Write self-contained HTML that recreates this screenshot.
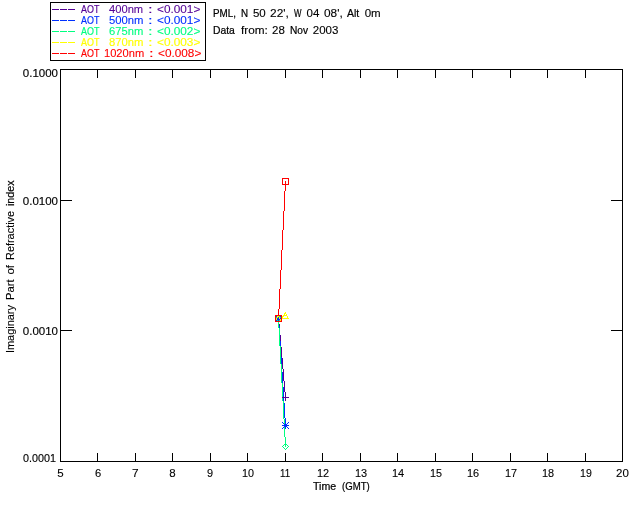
<!DOCTYPE html>
<html lang="en">
<head>
<meta charset="utf-8">
<title>Imaginary Part of Refractive Index - PML 28 Nov 2003</title>
<style>
html,body{margin:0;padding:0;background:#fff}
body{position:relative;width:640px;height:512px;overflow:hidden;font-family:"Liberation Sans",sans-serif;font-size:11.5px;color:#000}
svg{position:absolute;left:0;top:0}
#labels{position:absolute;left:0;top:0;width:640px;height:512px;will-change:transform}
.t{position:absolute;white-space:pre;line-height:16px;height:16px;width:0}
.t span{position:absolute;top:0;left:0;transform-origin:0 0;white-space:pre;-webkit-text-stroke:0.1px}
.t .n{-webkit-text-stroke:0.2px}
.xt span,.xt .n{-webkit-text-stroke:0.12px}
.yt span{-webkit-text-stroke:0.16px}
.hd span{-webkit-text-stroke:0.13px}
.hd .n,.xl .n{-webkit-text-stroke:0.24px}
.yl{transform:rotate(-90deg);transform-origin:0 0}
</style>
</head>
<body>
<svg width="640" height="512" viewBox="0 0 640 512" shape-rendering="crispEdges">
<path d="M60.5 69.5H622.5V461.5H60.5Z" fill="none" stroke="#000" stroke-width="1"/>
<path d="M60.5 453V461M60.5 69V78M97.5 453V461M97.5 69V78M135.5 453V461M135.5 69V78M172.5 453V461M172.5 69V78M210.5 453V461M210.5 69V78M247.5 453V461M247.5 69V78M285.5 453V461M285.5 69V78M322.5 453V461M322.5 69V78M360.5 453V461M360.5 69V78M397.5 453V461M397.5 69V78M435.5 453V461M435.5 69V78M472.5 453V461M472.5 69V78M510.5 453V461M510.5 69V78M547.5 453V461M547.5 69V78M585.5 453V461M585.5 69V78M622.5 453V461M622.5 69V78M60 69.5H72M611 69.5H623M60 200.5H72M611 200.5H623M60 330.5H72M611 330.5H623M60 461.5H72M611 461.5H623" fill="none" stroke="#000" stroke-width="1"/>
<path d="M50.5 2.5H205.5V60.5H50.5Z" fill="none" stroke="#000" stroke-width="1"/>
<path d="M52 9h7v1h-7zM60 9h7v1h-7zM68 9h7v1h-7z" fill="#540096"/>
<path d="M52 20h7v1h-7zM60 20h7v1h-7zM68 20h7v1h-7z" fill="#0030ff"/>
<path d="M52 31h7v1h-7zM60 31h7v1h-7zM68 31h7v1h-7z" fill="#00ff80"/>
<path d="M52 42h7v1h-7zM60 42h7v1h-7zM68 42h7v1h-7z" fill="#ffff00"/>
<path d="M52 53h7v1h-7zM60 53h7v1h-7zM68 53h7v1h-7z" fill="#ff0000"/>
<path d="M278 318h1v6h-1zM279 324h1v11h-1zM280 335h1v12h-1zM281 347h1v11h-1zM282 358h1v11h-1zM283 369h1v12h-1zM284 381h1v11h-1zM285 392h1v6h-1z" fill="#540096"/>
<path d="M278 318h1v8h-1zM279 326h1v15h-1zM280 341h1v16h-1zM281 357h1v15h-1zM282 372h1v15h-1zM283 387h1v16h-1zM284 403h1v15h-1zM285 418h1v8h-1z" fill="#0030ff"/>
<path d="M278 318h1v10h-1zM279 328h1v18h-1zM280 346h1v18h-1zM281 364h1v19h-1zM282 383h1v18h-1zM283 401h1v18h-1zM284 419h1v18h-1zM285 437h1v10h-1z" fill="#00ff80"/>
<path d="M278 318h1v1h-1zM279 318h1v1h-1zM280 317h1v1h-1zM281 317h1v1h-1zM282 316h1v1h-1zM283 316h1v1h-1zM284 315h1v1h-1zM285 315h1v1h-1z" fill="#ffff00"/>
<path d="M278 309h1v10h-1zM279 289h1v20h-1zM280 270h1v19h-1zM281 250h1v20h-1zM282 230h1v20h-1zM283 211h1v19h-1zM284 191h1v20h-1zM285 181h1v10h-1z" fill="#ff0000"/>
<path d="M275 318h1v1h-1zM276 318h1v1h-1zM277 318h1v1h-1zM278 315h1v7h-1zM279 318h1v1h-1zM280 318h1v1h-1zM281 318h1v1h-1zM282 397h1v1h-1zM283 397h1v1h-1zM284 397h1v1h-1zM285 394h1v7h-1zM286 397h1v1h-1zM287 397h1v1h-1zM288 397h1v1h-1z" fill="#540096"/>
<path d="M275 315h1v1h-1zM275 318h1v1h-1zM275 321h1v1h-1zM276 316h1v1h-1zM276 318h1v1h-1zM276 320h1v1h-1zM277 317h1v3h-1zM278 315h1v7h-1zM279 317h1v3h-1zM280 316h1v1h-1zM280 318h1v1h-1zM280 320h1v1h-1zM281 315h1v1h-1zM281 318h1v1h-1zM281 321h1v1h-1zM282 422h1v1h-1zM282 425h1v1h-1zM282 428h1v1h-1zM283 423h1v1h-1zM283 425h1v1h-1zM283 427h1v1h-1zM284 424h1v3h-1zM285 422h1v7h-1zM286 424h1v3h-1zM287 423h1v1h-1zM287 425h1v1h-1zM287 427h1v1h-1zM288 422h1v1h-1zM288 425h1v1h-1zM288 428h1v1h-1z" fill="#0030ff"/>
<path d="M275 318h1v1h-1zM276 317h1v1h-1zM276 319h1v1h-1zM277 316h1v1h-1zM277 320h1v1h-1zM278 315h1v1h-1zM278 321h1v1h-1zM279 316h1v1h-1zM279 320h1v1h-1zM280 317h1v1h-1zM280 319h1v1h-1zM281 318h1v1h-1zM282 446h1v1h-1zM283 445h1v1h-1zM283 447h1v1h-1zM284 444h1v1h-1zM284 448h1v1h-1zM285 443h1v1h-1zM285 449h1v1h-1zM286 444h1v1h-1zM286 448h1v1h-1zM287 445h1v1h-1zM287 447h1v1h-1zM288 446h1v1h-1z" fill="#00ff80"/>
<path d="M275 320h1v2h-1zM276 318h1v2h-1zM276 321h1v1h-1zM277 316h1v2h-1zM277 321h1v1h-1zM278 315h1v2h-1zM278 321h1v1h-1zM279 317h1v2h-1zM279 321h1v1h-1zM280 319h1v3h-1zM281 321h1v1h-1zM282 317h1v2h-1zM283 315h1v2h-1zM283 318h1v1h-1zM284 313h1v2h-1zM284 318h1v1h-1zM285 312h1v2h-1zM285 318h1v1h-1zM286 314h1v2h-1zM286 318h1v1h-1zM287 316h1v3h-1zM288 318h1v1h-1z" fill="#ffff00"/>
<path d="M275 315h1v7h-1zM276 315h1v1h-1zM276 321h1v1h-1zM277 315h1v1h-1zM277 321h1v1h-1zM278 315h1v1h-1zM278 321h1v1h-1zM279 315h1v1h-1zM279 321h1v1h-1zM280 315h1v1h-1zM280 321h1v1h-1zM281 315h1v7h-1zM282 178h1v7h-1zM283 178h1v1h-1zM283 184h1v1h-1zM284 178h1v1h-1zM284 184h1v1h-1zM285 178h1v1h-1zM285 184h1v1h-1zM286 178h1v1h-1zM286 184h1v1h-1zM287 178h1v1h-1zM287 184h1v1h-1zM288 178h1v7h-1z" fill="#ff0000"/>
</svg>
<div id="labels">
<div class="t lg" style="left:79px;top:1px;color:#540096"><span class="n" style="left:1.90px;transform:scaleX(0.776)">AOT</span> <span style="left:30.15px;transform:scaleX(0.972)">400nm</span> <span style="left:68.70px;transform:scaleX(1.450)">:</span> <span style="left:77.71px;transform:scaleX(1.025)">&lt;0.001&gt;</span></div>
<div class="t lg" style="left:79px;top:12px;color:#0030ff"><span class="n" style="left:1.90px;transform:scaleX(0.776)">AOT</span> <span style="left:29.91px;transform:scaleX(0.980)">500nm</span> <span style="left:68.70px;transform:scaleX(1.450)">:</span> <span style="left:77.71px;transform:scaleX(1.025)">&lt;0.001&gt;</span></div>
<div class="t lg" style="left:79px;top:23px;color:#00ff80"><span class="n" style="left:1.90px;transform:scaleX(0.776)">AOT</span> <span style="left:30.10px;transform:scaleX(0.974)">675nm</span> <span style="left:68.70px;transform:scaleX(1.450)">:</span> <span style="left:77.71px;transform:scaleX(1.025)">&lt;0.002&gt;</span></div>
<div class="t lg" style="left:79px;top:34px;color:#ffff00"><span class="n" style="left:1.90px;transform:scaleX(0.776)">AOT</span> <span style="left:29.91px;transform:scaleX(0.980)">870nm</span> <span style="left:68.70px;transform:scaleX(1.450)">:</span> <span style="left:77.71px;transform:scaleX(1.025)">&lt;0.003&gt;</span></div>
<div class="t lg" style="left:79px;top:45px;color:#ff0000"><span class="n" style="left:1.90px;transform:scaleX(0.776)">AOT</span> <span style="left:25.45px;transform:scaleX(0.967)">1020nm</span> <span style="left:69.96px;transform:scaleX(1.450)">:</span> <span style="left:78.97px;transform:scaleX(1.025)">&lt;0.008&gt;</span></div>
<div class="t hd" style="left:212px;top:5px"><span class="n" style="left:1.15px;transform:scaleX(0.852)">PML,</span> <span class="n" style="left:28.91px;transform:scaleX(0.850)">N</span> <span style="left:40.94px">50</span> <span style="left:58.46px;transform:scaleX(1.036)">22&#x27;,</span> <span class="n" style="left:82.05px;transform:scaleX(0.688)">W</span> <span style="left:94.57px">04</span> <span style="left:112.23px;transform:scaleX(1.028)">08&#x27;,</span> <span class="n" style="left:135.34px;transform:scaleX(0.909)">Alt</span> <span style="left:152.63px">0m</span></div>
<div class="t hd" style="left:212px;top:22px"><span class="n" style="left:1.10px;transform:scaleX(0.898)">Data</span> <span style="left:28.69px;transform:scaleX(1.024)">from:</span> <span style="left:60.05px">28</span> <span class="n" style="left:77.78px;transform:scaleX(0.882)">Nov</span> <span style="left:100.76px">2003</span></div>
<div class="t yt" style="left:21px;top:65px"><span style="left:1.80px">0.1000</span></div>
<div class="t yt" style="left:21px;top:193px"><span style="left:1.80px">0.0100</span></div>
<div class="t yt" style="left:21px;top:323px"><span style="left:1.80px">0.0010</span></div>
<div class="t yt" style="left:21px;top:450px"><span style="left:1.82px;transform:scaleX(0.935)">0.0001</span></div>
<div class="t xt" style="left:55px;top:465px"><span style="left:2.29px">5</span></div>
<div class="t xt" style="left:93px;top:465px"><span style="left:1.50px;transform:scaleX(0.972)">6</span></div>
<div class="t xt" style="left:130px;top:465px"><span style="left:2.15px;transform:scaleX(1.032)">7</span></div>
<div class="t xt" style="left:167px;top:465px"><span style="left:2.29px">8</span></div>
<div class="t xt" style="left:205px;top:465px"><span style="left:2.32px;transform:scaleX(0.949)">9</span></div>
<div class="t xt" style="left:240px;top:465px"><span style="left:1.76px;transform:scaleX(0.937)">10</span></div>
<div class="t xt" style="left:278px;top:465px"><span class="n" style="left:1.84px;transform:scaleX(0.846)">11</span></div>
<div class="t xt" style="left:315px;top:465px"><span style="left:1.75px;transform:scaleX(0.948)">12</span></div>
<div class="t xt" style="left:353px;top:465px"><span style="left:1.75px;transform:scaleX(0.948)">13</span></div>
<div class="t xt" style="left:390px;top:465px"><span style="left:1.75px;transform:scaleX(0.954)">14</span></div>
<div class="t xt" style="left:428px;top:465px"><span style="left:1.76px;transform:scaleX(0.937)">15</span></div>
<div class="t xt" style="left:465px;top:465px"><span style="left:1.75px;transform:scaleX(0.948)">16</span></div>
<div class="t xt" style="left:503px;top:465px"><span style="left:1.75px;transform:scaleX(0.948)">17</span></div>
<div class="t xt" style="left:540px;top:465px"><span style="left:1.75px;transform:scaleX(0.948)">18</span></div>
<div class="t xt" style="left:578px;top:465px"><span class="n" style="left:1.78px;transform:scaleX(0.920)">19</span></div>
<div class="t xt" style="left:614px;top:465px"><span style="left:2.01px">20</span></div>
<div class="t xl" style="left:311px;top:478px"><span class="n" style="left:2.16px;transform:scaleX(0.921)">Time</span> <span class="n" style="left:31.19px;transform:scaleX(0.836)">(GMT)</span></div>
<div class="t yl" style="left:2px;top:352px"><span style="left:-1.07px;transform:scaleX(0.949)">Imaginary</span> <span style="left:51.71px;transform:scaleX(0.981)">Part</span> <span style="left:77.42px">of</span> <span style="left:92.12px;transform:scaleX(0.949)">Refractive</span> <span class="n" style="left:146.01px;transform:scaleX(0.926)">index</span></div>
</div>
</body>
</html>
